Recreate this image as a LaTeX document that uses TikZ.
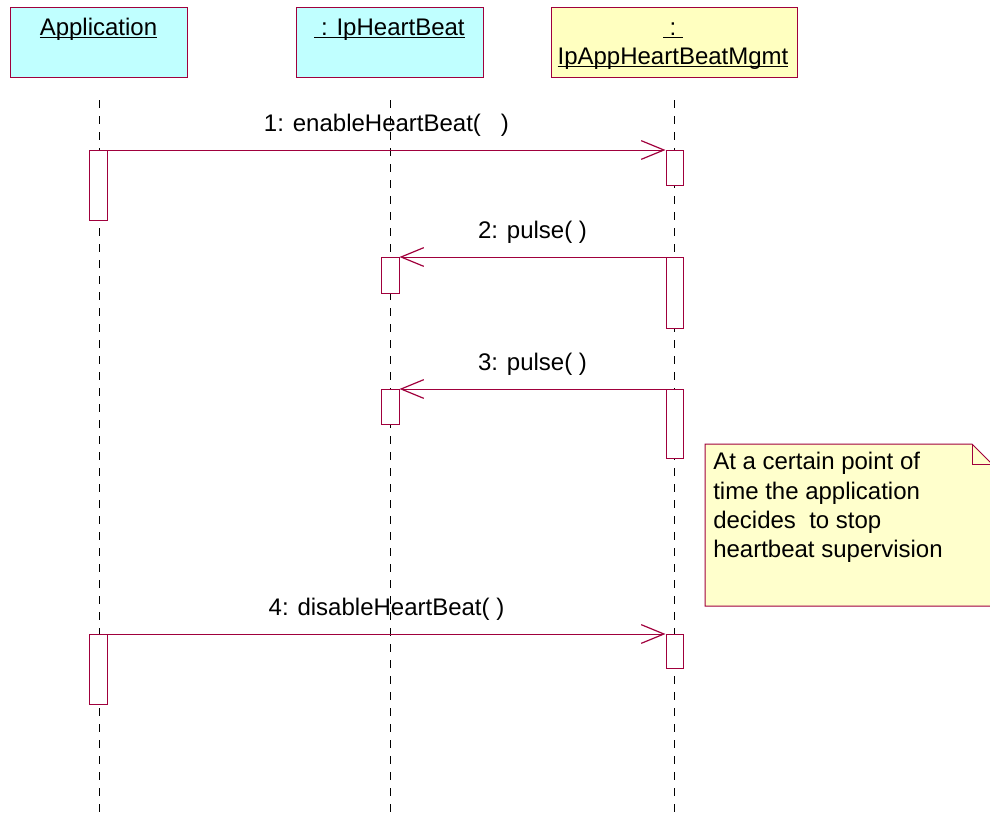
\documentclass[tikz,border=0pt]{standalone}
\usepackage{fontspec}
\setmainfont{Liberation Sans}
\usepackage{tikz}
\usetikzlibrary{arrows.meta}
\definecolor{umlred}{RGB}{160,0,60}
\definecolor{objcyan}{RGB}{192,255,255}
\definecolor{objyellow}{RGB}{255,255,192}
\definecolor{noteyellow}{RGB}{255,255,204}
\newcommand{\objul}[1]{\setbox0\hbox{#1}\rlap{\rule[-2pt]{\wd0}{0.7pt}}\box0}

\begin{document}
\begin{tikzpicture}[x=0.75pt,y=-0.75pt,
  every node/.style={font=\fontsize{18}{22}\selectfont},
  objbox/.style={shape=rectangle,draw=umlred,line width=0.75pt,anchor=north west,inner sep=0pt,minimum height=52.5pt},
  actbox/.style={shape=rectangle,draw=umlred,fill=white,line width=0.75pt,anchor=north,inner sep=0pt,minimum width=13.5pt},
  lifeline/.style={line width=0.75pt,dash pattern=on 6pt off 6pt},
  msg/.style={draw=umlred,line width=0.75pt,-{Straight Barb[length=17pt,width=14pt,line width=0.9pt]}},
  msglabel/.style={midway,anchor=base,yshift=14.25pt}]
\useasboundingbox (0,0) rectangle (990,815);

% objects
\path (10,7) node (app) [objbox,fill=objcyan,minimum width=132.75pt] {};
\path (296,7) node (hb) [objbox,fill=objcyan,minimum width=140.25pt] {};
\path (551,7) node (mgmt) [objbox,fill=objyellow,minimum width=184.5pt] {};
\path (98.5,35) node (appname) [anchor=base] {\objul{Application}};
\path (389.5,35) node (hbname) [anchor=base] {\objul{\ : IpHeartBeat}};
\path (673,35) node (mgmtcolon) [anchor=base] {\objul{\ :\ }};
\path (673,64) node (mgmtname) [anchor=base] {\objul{IpAppHeartBeatMgmt}};

% lifelines
\coordinate (appTop) at (99,100);
\coordinate (appBot) at (99,815);
\coordinate (hbTop) at (390,100);
\coordinate (hbBot) at (390,815);
\coordinate (mgmtTop) at (674,100);
\coordinate (mgmtBot) at (674,815);
\draw [lifeline] (appTop) -- (appBot);
\draw [lifeline] (hbTop) -- (hbBot);
\draw [lifeline] (mgmtTop) -- (mgmtBot);

% activations
\path (98,150) node (appact1) [actbox,minimum height=52.5pt] {};
\path (98,634) node (appact2) [actbox,minimum height=52.5pt] {};
\path (390,257) node (hbact1) [actbox,minimum height=27pt] {};
\path (390,389) node (hbact2) [actbox,minimum height=26pt] {};
\path (674.5,150) node (mgmtact1) [actbox,minimum width=12.75pt,minimum height=26.25pt] {};
\path (674.5,257) node (mgmtact2) [actbox,minimum width=12.75pt,minimum height=53.25pt] {};
\path (674.5,389) node (mgmtact3) [actbox,minimum width=12.75pt,minimum height=51.75pt] {};
\path (674.5,634) node (mgmtact4) [actbox,minimum width=12.75pt,minimum height=25.5pt] {};

% messages
\draw [msg] (appact1.north east) -- node [msglabel] {1: enableHeartBeat(\ \ \ )} (mgmtact1.north west);
\draw [msg] (mgmtact2.north west) -- node [msglabel] {2: pulse( )} (hbact1.north east);
\draw [msg] (mgmtact3.north west) -- node [msglabel] {3: pulse( )} (hbact2.north east);
\draw [msg] (appact2.north east) -- node [msglabel] {4: disableHeartBeat( )} (mgmtact4.north west);

% note
\draw [draw=umlred,fill=noteyellow,line width=0.75pt] (705,444) -- (972,444) -- (992,464) -- (992,606) -- (705,606) -- cycle;
\draw [draw=umlred,line width=0.75pt] (972,444) -- (972,464) -- (992,464);
\path (713,452) node (notetext) [anchor=north west,inner sep=0pt,align=left] {At a certain point of\\time the application\\decides~ to stop\\heartbeat supervision};
\end{tikzpicture}
\end{document}
